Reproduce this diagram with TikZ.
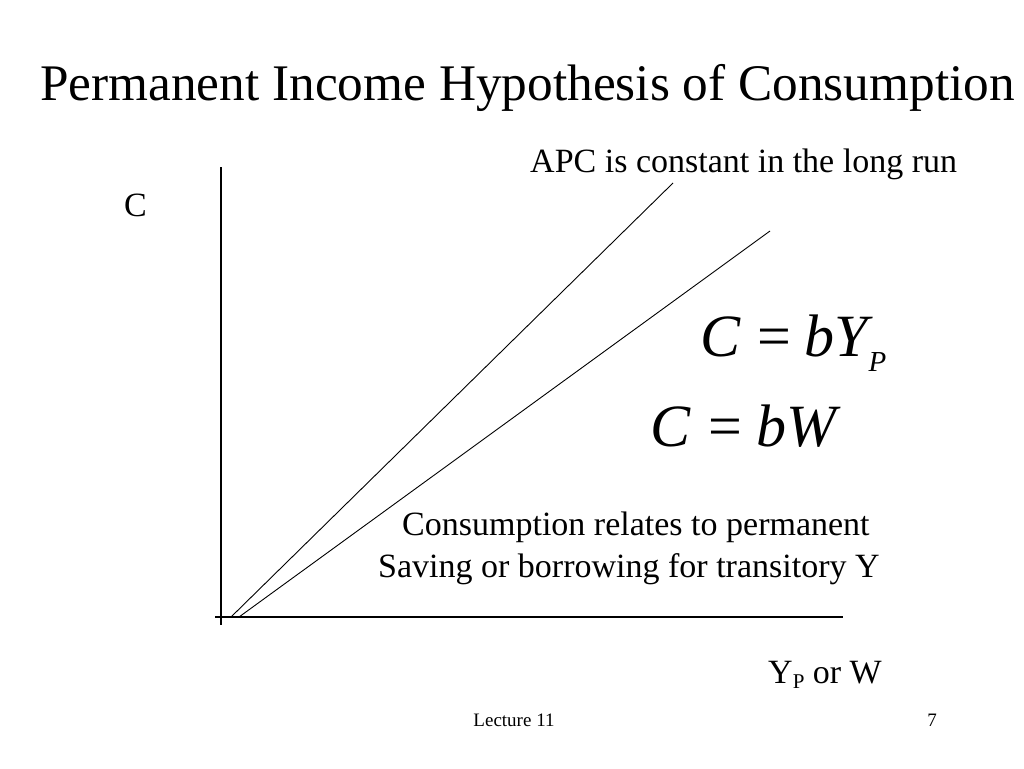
\documentclass[tikz,border=0pt]{standalone}
\usepackage{fontspec}
\setmainfont{Liberation Serif}
\begin{document}
\begin{tikzpicture}[x=1pt,y=-1pt,
  txt/.style={inner sep=0pt,anchor=base west},
  axis/.style={line width=1.2pt,black},
  curve/.style={line width=0.9pt,black}]
\useasboundingbox (0,0) rectangle (1024,768);
\node[txt] (title) at (40,100) {\fontsize{51.3}{56}\selectfont Permanent Income Hypothesis of Consumption};
\node[txt] (apc) at (530,172) {\fontsize{34}{38}\selectfont APC is constant in the long run};
\node[txt] (cl) at (124,216) {\fontsize{34}{38}\selectfont C};
\node[txt] (eq1) at (700,356) {\fontsize{60}{64}\selectfont\itshape C\hspace{0.28em}\upshape=\hspace{0.22em}\itshape bY\hspace{0.02em}\raisebox{-15pt}{\fontsize{29}{32}\selectfont P}};
\node[txt] (eq2) at (650,446) {\fontsize{60}{64}\selectfont\itshape C\hspace{0.3em}\upshape=\hspace{0.24em}\itshape bW};
\node[txt] (t1) at (402,535) {\fontsize{34}{38}\selectfont Consumption relates to permanent};
\node[txt] (t2) at (378,577) {\fontsize{34}{38}\selectfont Saving or borrowing for transitory Y};
\node[txt] (xl) at (768,683) {\fontsize{34}{38}\selectfont Y\raisebox{-5pt}{\fontsize{21}{22}\selectfont P} or W};
\node[txt,anchor=base] (lec) at (514,726) {\fontsize{19}{21}\selectfont Lecture 11};
\node[txt,anchor=base] (pg) at (932,726) {\fontsize{19}{21}\selectfont 7};
\coordinate (ytop) at (221,167);
\coordinate (ybot) at (221,625);
\coordinate (xl0) at (215,617);
\coordinate (xr) at (843,617);
\coordinate (a0) at (231,617);
\coordinate (a1) at (673,183);
\coordinate (b0) at (239,617);
\coordinate (b1) at (770,231);
\draw[axis] (ytop) -- (ybot);
\draw[axis] (xl0) -- (xr);
\draw[curve] (a0) -- (a1);
\draw[curve] (b0) -- (b1);
\end{tikzpicture}
\end{document}
